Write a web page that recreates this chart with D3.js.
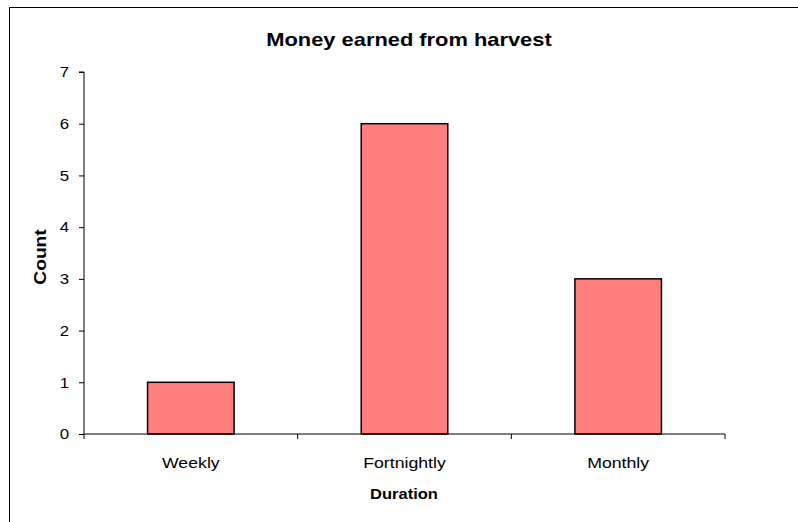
<!DOCTYPE html>
<html>
<head>
<meta charset="utf-8">
<script src="https://cdn.jsdelivr.net/npm/d3@7"></script>
<style>
  body { margin: 0; background: #fff; }
  svg { display: block; font-family: "Liberation Sans", Arial, sans-serif; }
</style>
</head>
<body>
<svg id="chart" width="798" height="522"></svg>
<script>
const categories = ["Weekly", "Fortnightly", "Monthly"];
const counts = [1, 6, 3];
const yTicks = [0, 1, 2, 3, 4, 5, 6, 7];
const titleText = "Money earned from harvest";
const xTitle = "Duration";
const yTitle = "Count";

const svg = d3.select("#chart");
const W = 798, H = 522;
const plot = { left: 84, right: 725, top: 72, bottom: 434 };

function stretch(sel, f) {
  sel.each(function () {
    const len = this.getComputedTextLength();
    d3.select(this).attr("textLength", len * f).attr("lengthAdjust", "spacingAndGlyphs");
  });
}

svg.append("rect").attr("x", 9.5).attr("y", 7.5).attr("width", W + 10).attr("height", H + 10)
  .attr("fill", "#fff").attr("stroke", "#000").attr("stroke-width", 1);

const x = d3.scaleBand().domain(categories).range([plot.left, plot.right]).padding(0);
const y = d3.scaleLinear().domain([0, 7]).range([plot.bottom, plot.top]);

// bars
const bw = x.bandwidth() * 0.405;
svg.selectAll("rect.bar").data(categories).enter().append("rect")
  .attr("class", "bar")
  .attr("x", d => x(d) + (x.bandwidth() - bw) / 2)
  .attr("y", (d, i) => y(counts[i]))
  .attr("width", bw)
  .attr("height", (d, i) => y(0) - y(counts[i]))
  .attr("fill", "#FF7F7F").attr("stroke", "#000").attr("stroke-width", 1.5);

// y axis
const yAxis = d3.axisLeft(y).tickValues(yTicks).tickSize(5).tickPadding(10).tickFormat(d3.format("d"));
const gy = svg.append("g").attr("transform", `translate(${plot.left},0)`).call(yAxis);
gy.select(".domain").attr("stroke", "#000").attr("d", `M-5,${plot.top}H0V${plot.bottom}`);
gy.selectAll("line").attr("stroke", "#000");
gy.selectAll("text").attr("font-size", 15).attr("fill", "#000").attr("font-family", "Liberation Sans, Arial, sans-serif");
stretch(gy.selectAll("text"), 1.12);

// x axis
const gx = svg.append("g").attr("transform", `translate(0,${plot.bottom})`);
gx.append("line").attr("x1", plot.left).attr("x2", plot.right).attr("y1", 0).attr("y2", 0).attr("stroke", "#000");
const bounds = categories.map(c => x(c)).concat([plot.right]);
gx.selectAll("line.tk").data(bounds).enter().append("line").attr("class", "tk")
  .attr("x1", d => d).attr("x2", d => d).attr("y1", 0).attr("y2", 5).attr("stroke", "#000");
const xl = gx.selectAll("text").data(categories).enter().append("text")
  .attr("x", d => x(d) + x.bandwidth() / 2).attr("y", 34)
  .attr("text-anchor", "middle").attr("font-size", 15).attr("fill", "#000").text(d => d);
stretch(xl, 1.18);

// titles
const t = svg.append("text").attr("x", 409).attr("y", 46).attr("text-anchor", "middle")
  .attr("font-size", 19).attr("font-weight", "bold").text(titleText);
stretch(t, 1.15);
const xt = svg.append("text").attr("x", 404).attr("y", 499).attr("text-anchor", "middle")
  .attr("font-size", 15).attr("font-weight", "bold").text(xTitle);
stretch(xt, 1.1);
const yt = svg.append("text").attr("transform", "translate(46,257) rotate(-90)").attr("text-anchor", "middle")
  .attr("font-size", 16).attr("font-weight", "bold").text(yTitle);
stretch(yt, 1.2);
</script>
</body>
</html>
